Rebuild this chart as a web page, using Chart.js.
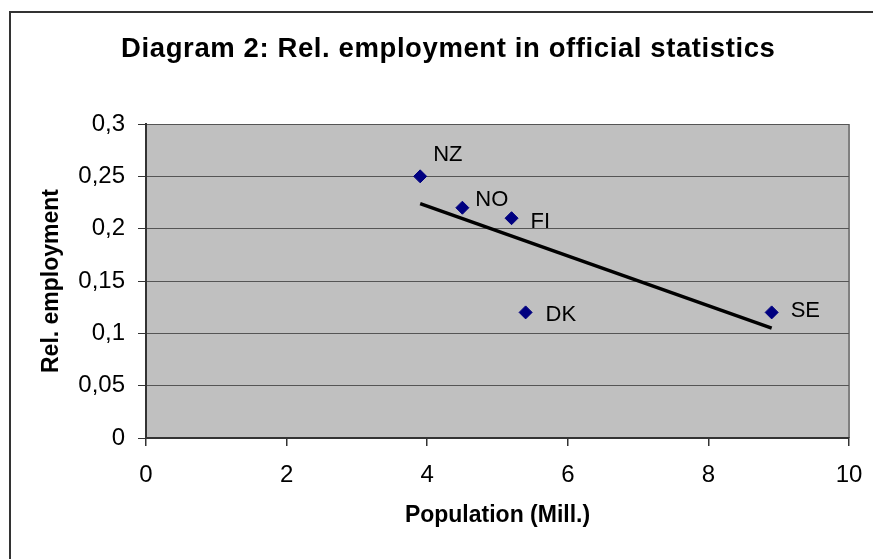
<!DOCTYPE html>
<html>
<head>
<meta charset="utf-8">
<script src="https://cdn.jsdelivr.net/npm/chart.js@4/dist/chart.umd.min.js"></script>
<style>
  html, body { margin: 0; padding: 0; background: #ffffff; }
  #wrap { position: relative; width: 873px; height: 559px; }
</style>
</head>
<body>
<div id="wrap"><canvas id="chart"></canvas></div>
<script>
const countries = ['NZ', 'NO', 'FI', 'DK', 'SE'];
const population = [3.9, 4.5, 5.2, 5.4, 8.9];
const relEmployment = [0.25, 0.22, 0.21, 0.12, 0.12];

// trend line end points
const trendX = [3.9, 8.9];
const trendY = [0.224, 0.105];

const yTicks = [0, 0.05, 0.1, 0.15, 0.2, 0.25, 0.3];
const xTicks = [0, 2, 4, 6, 8, 10];

const chartTitle = 'Diagram 2: Rel. employment in official statistics';

// label offsets from each point, in pixels
const labelOffsets = {
  NZ: [13, -22],
  NO: [13, -9],
  FI: [19, 3],
  DK: [20, 2],
  SE: [19, -2]
};

const fontFamily = '"Liberation Sans", Arial, sans-serif';

const framePlugin = {
  id: 'frame',
  beforeDraw(chart) {
    const { ctx, chartArea } = chart;
    ctx.save();
    ctx.fillStyle = '#ffffff';
    ctx.fillRect(0, 0, chart.width, chart.height);
    ctx.strokeStyle = '#333333';
    ctx.lineWidth = 2;
    ctx.strokeRect(10, 12, 900, 600);
    ctx.fillStyle = '#c0c0c0';
    ctx.fillRect(chartArea.left, chartArea.top, chartArea.right - chartArea.left, chartArea.bottom - chartArea.top);
    ctx.strokeStyle = '#808080';
    ctx.lineWidth = 2;
    ctx.beginPath();
    ctx.moveTo(chartArea.right, chartArea.top);
    ctx.lineTo(chartArea.right, chartArea.bottom);
    ctx.stroke();
    ctx.fillStyle = '#000000';
    ctx.font = 'bold 27.5px ' + fontFamily;
    ctx.textBaseline = 'middle';
    // spread the title a little, Excel renders it wider
    const spacing = 0.6;
    const total = ctx.measureText(chartTitle).width + spacing * (chartTitle.length - 1);
    ctx.textAlign = 'left';
    let tx = 448 - total / 2;
    for (let i = 0; i < chartTitle.length; i++) {
      ctx.fillText(chartTitle[i], tx, 49);
      tx += ctx.measureText(chartTitle.slice(0, i + 1)).width - ctx.measureText(chartTitle.slice(0, i)).width + spacing;
    }
    ctx.restore();
  }
};

const labelPlugin = {
  id: 'pointLabels',
  afterDatasetsDraw(chart) {
    const { ctx } = chart;
    const meta = chart.getDatasetMeta(0);
    ctx.save();
    ctx.fillStyle = '#000000';
    ctx.font = '22px ' + fontFamily;
    ctx.textAlign = 'left';
    ctx.textBaseline = 'middle';
    meta.data.forEach((pt, i) => {
      const name = countries[i];
      const off = labelOffsets[name];
      ctx.fillText(name, pt.x + off[0], pt.y + off[1] + 1);
    });
    ctx.restore();
  }
};

new Chart(document.getElementById('chart'), {
  type: 'scatter',
  data: {
    datasets: [
      {
        label: 'Rel. employment',
        data: population.map((x, i) => ({ x, y: relEmployment[i] })),
        pointStyle: 'rectRot',
        pointRadius: 6.5,
        pointHoverRadius: 6.5,
        backgroundColor: '#000080',
        borderColor: '#000080',
        borderWidth: 1
      },
      {
        label: 'Trend',
        data: trendX.map((x, i) => ({ x, y: trendY[i] })),
        showLine: true,
        borderColor: '#000000',
        borderWidth: 3.5,
        pointRadius: 0,
        fill: false
      }
    ]
  },
  options: {
    responsive: true,
    maintainAspectRatio: false,
    animation: false,
    layout: {
      padding: { top: 124, right: 24, bottom: 0, left: 0 }
    },
    plugins: {
      legend: { display: false },
      title: { display: false },
      tooltip: { enabled: false }
    },
    scales: {
      x: {
        type: 'linear',
        min: 0,
        max: 10,
        afterFit(scale) {
          scale.height = 121;
          scale.paddingLeft = 0;
          scale.paddingRight = 0;
        },
        afterBuildTicks(scale) { scale.ticks = xTicks.map(v => ({ value: v })); },
        ticks: {
          color: '#000000',
          padding: 15,
          font: { family: fontFamily, size: 24 },
          maxRotation: 0
        },
        grid: {
          display: true,
          drawOnChartArea: false,
          drawTicks: true,
          tickLength: 8,
          color: '#333333',
          lineWidth: 1.5
        },
        border: { display: true, color: '#333333', width: 2 },
        title: {
          display: true,
          text: 'Population (Mill.)',
          color: '#000000',
          font: { family: fontFamily, size: 23, weight: 'bold' },
          padding: { top: 0, bottom: 30 }
        }
      },
      y: {
        type: 'linear',
        min: 0,
        max: 0.3,
        afterFit(scale) { scale.width = 146; },
        afterBuildTicks(scale) { scale.ticks = yTicks.map(v => ({ value: v })); },
        ticks: {
          color: '#000000',
          padding: 13,
          font: { family: fontFamily, size: 24 },
          callback: (v) => String(v).replace('.', ',')
        },
        grid: {
          color: '#555555',
          lineWidth: 1,
          drawTicks: true,
          tickLength: 8,
          tickColor: '#333333'
        },
        border: { display: true, color: '#333333', width: 2 },
        title: {
          display: true,
          text: 'Rel. employment',
          color: '#000000',
          font: { family: fontFamily, size: 23, weight: 'bold' },
          padding: { top: 38, bottom: 0 }
        }
      }
    }
  },
  plugins: [framePlugin, labelPlugin]
});
</script>
</body>
</html>
